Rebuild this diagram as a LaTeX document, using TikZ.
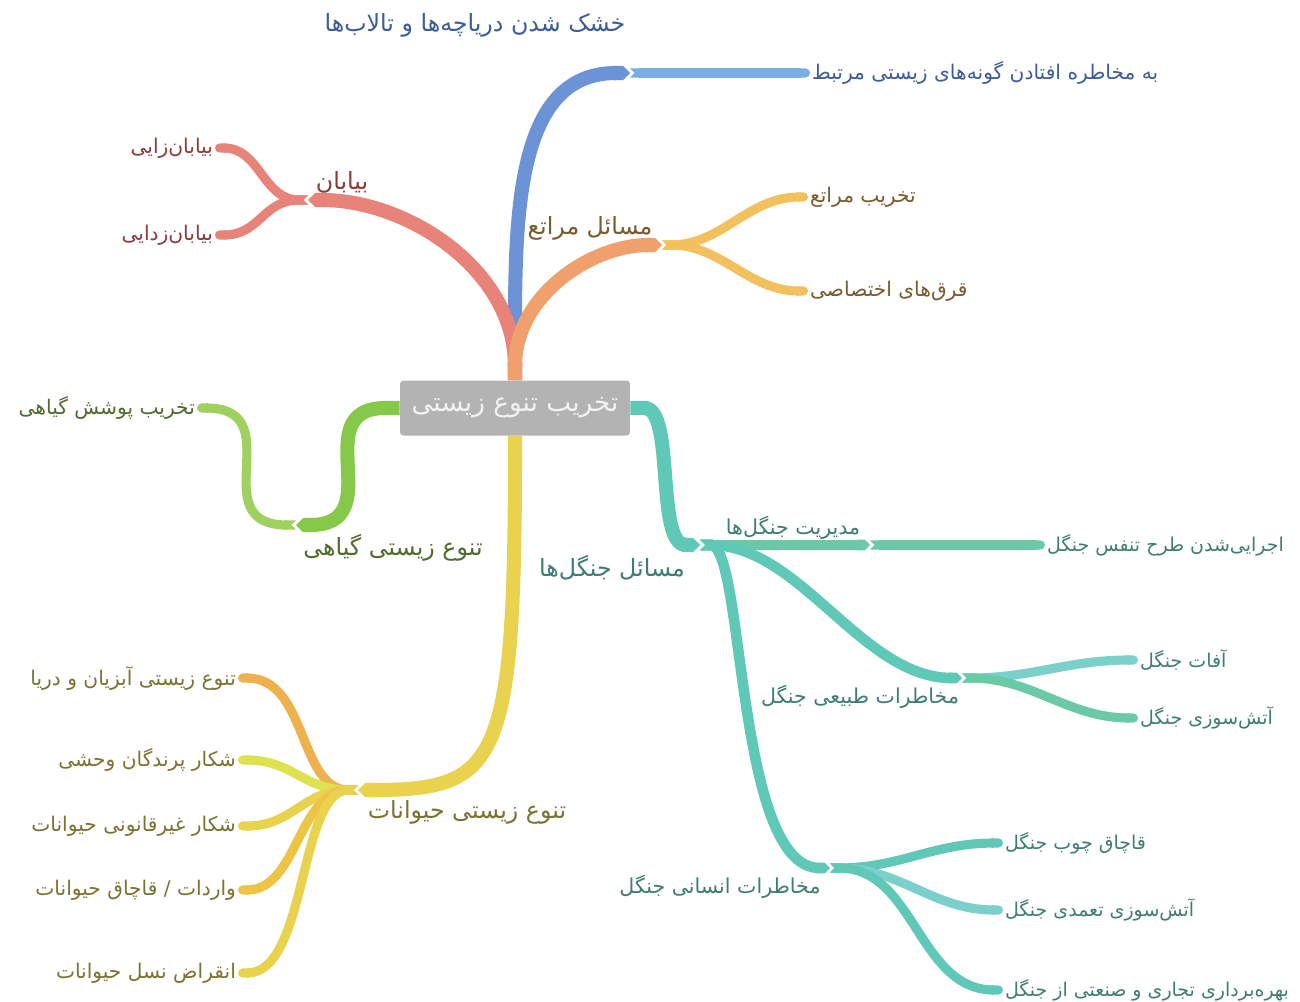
\documentclass[tikz,border=0pt]{standalone}
\usepackage{fontspec}
\setmainfont{DejaVu Sans}
\newfontfamily\fafont[Script=Arabic]{DejaVu Sans}
\TeXXeTstate=1
\usetikzlibrary{arrows.meta}

\definecolor{rootgray}{HTML}{B3B3B3}
\definecolor{blueA}{HTML}{6B93D6}
\definecolor{blueB}{HTML}{78AEE3}
\definecolor{blueT}{HTML}{3B5E96}
\definecolor{redA}{HTML}{E8837A}
\definecolor{redT}{HTML}{8C3B3B}
\definecolor{orangeA}{HTML}{F0A06C}
\definecolor{orangeB}{HTML}{F2C15E}
\definecolor{orangeT}{HTML}{7A5A2E}
\definecolor{greenA}{HTML}{86C84A}
\definecolor{greenB}{HTML}{A0D060}
\definecolor{greenT}{HTML}{4F6B2E}
\definecolor{yellowA}{HTML}{E9D24E}
\definecolor{yellowB}{HTML}{EDB24E}
\definecolor{yellowC}{HTML}{DDE24E}
\definecolor{yellowD}{HTML}{EEC445}
\definecolor{yellowT}{HTML}{7A7332}
\definecolor{tealA}{HTML}{5FC8B6}
\definecolor{tealB}{HTML}{6CC9A6}
\definecolor{tealC}{HTML}{7BD0CC}
\definecolor{tealT}{HTML}{3E7D72}

\newcommand{\fa}[1]{\beginR #1\endR}

\begin{document}
\begin{tikzpicture}[
    x=0.02cm, y=-0.02cm,
    root/.style={rectangle, rounded corners=2pt, fill=rootgray, text=white!95!black, minimum width=4.6cm, minimum height=1.1cm, font=\fafont\fontsize{15}{17}\selectfont},
    limb/.style={line width=8pt, {Butt Cap}-{Triangle Cap}},
    mid/.style={line width=6pt, {Triangle Cap[reversed]}-{Triangle Cap}},
    twig/.style={line width=5.2pt, {Triangle Cap[reversed]}-{Round Cap}},
    big/.style={inner sep=1pt, font=\fafont\fontsize{13.5}{15}\selectfont},
    sub/.style={inner sep=1pt, font=\fafont\fontsize{11.7}{13}\selectfont},
    small/.style={inner sep=1pt, font=\fafont\fontsize{11.5}{13}\selectfont},
    leafR/.style={small, anchor=west},
    leafL/.style={small, anchor=east},
    leafF/.style={leafR, font=\fafont\fontsize{10.8}{12}\selectfont}
]
\useasboundingbox[fill=white] (0,0) rectangle (1300,1001);

% Center
\node[root] (Root) at (515,408) {\fa{تخریب تنوع زیستی}};

% joints
\coordinate (jLakes) at (630,73);
\coordinate (jDes) at (308,200);
\coordinate (jRange) at (662,245);
\coordinate (jPlant) at (296,525);
\coordinate (jAnimal) at (358,790);
\coordinate (jForest) at (700,545);
\coordinate (jMgmt) at (870,545);
\coordinate (jNat) at (962,678);
\coordinate (jHum) at (830,868);

% ==================== Lakes Block ====================
\node[big, text=blueT] (lbLakes) at (475,25) {\fa{خشک شدن دریاچه‌ها و تالاب‌ها}};
\node[leafR, text=blueT] (lfLakes) at (810,73) {\fa{به مخاطره افتادن گونه‌های زیستی مرتبط}};

\draw[limb, blueA] (Root.north) .. controls +(0,-150) and +(-120,0) .. (jLakes);
\draw[twig, blueB] (jLakes) -- (lfLakes.west);

% ==================== Desert Block ====================
\node[big, text=redT] (lbDes) at (342,182) {\fa{بیابان}};
\node[leafL, text=redT] (lfDesA) at (215,148) {\fa{بیابان‌زایی}};
\node[leafL, text=redT] (lfDesB) at (215,235) {\fa{بیابان‌زدایی}};

\draw[limb, redA] (Root.north) .. controls +(0,-110) and +(100,0) .. (jDes);
\draw[twig, redA] (jDes) .. controls +(-45,0) and +(45,0) .. (lfDesA.east);
\draw[twig, redA] (jDes) .. controls +(-45,0) and +(45,0) .. (lfDesB.east);

% ==================== Range Block ====================
\node[big, text=orangeT] (lbRange) at (590,228) {\fa{مسائل مراتع}};
\node[leafR, text=orangeT] (lfRangeA) at (808,197) {\fa{تخریب مراتع}};
\node[leafR, text=orangeT] (lfRangeB) at (808,291) {\fa{قرق‌های اختصاصی}};

\draw[limb, orangeA] (Root.north) .. controls +(0,-85) and +(-70,0) .. (jRange);
\draw[twig, orangeB] (jRange) .. controls +(60,0) and +(-60,0) .. (lfRangeA.west);
\draw[twig, orangeB] (jRange) .. controls +(60,0) and +(-60,0) .. (lfRangeB.west);

% ==================== Plant Block ====================
\node[big, text=greenT] (lbPlant) at (393,548) {\fa{تنوع زیستی گیاهی}};
\node[leafL, text=greenT] (lfPlant) at (197,408) {\fa{تخریب پوشش گیاهی}};

\draw[limb, greenA] (Root.west) .. controls +(-95,0) and +(95,0) .. (jPlant);
\draw[twig, greenB] (jPlant) .. controls +(-95,0) and +(95,0) .. (lfPlant.east);

% ==================== Animal Block ====================
\node[big, text=yellowT] (lbAnimal) at (467,812) {\fa{تنوع زیستی حیوانات}};
\node[leafL, text=yellowT] (lfAniA) at (238,678) {\fa{تنوع زیستی آبزیان و دریا}};
\node[leafL, text=yellowT] (lfAniB) at (238,760) {\fa{شکار پرندگان وحشی}};
\node[leafL, text=yellowT] (lfAniC) at (238,826) {\fa{شکار غیرقانونی حیوانات}};
\node[leafL, text=yellowT] (lfAniD) at (238,890) {\fa{واردات / قاچاق حیوانات}};
\node[leafL, text=yellowT] (lfAniE) at (238,973) {\fa{انقراض نسل حیوانات}};

\draw[limb, yellowA] (Root.south) .. controls +(0,330) and +(140,0) .. (jAnimal);
\draw[twig, yellowB] (jAnimal) .. controls +(-60,0) and +(70,0) .. (lfAniA.east);
\draw[twig, yellowC] (jAnimal) .. controls +(-55,0) and +(55,0) .. (lfAniB.east);
\draw[twig, yellowA] (jAnimal) .. controls +(-55,0) and +(55,0) .. (lfAniC.east);
\draw[twig, yellowD] (jAnimal) .. controls +(-60,0) and +(60,0) .. (lfAniD.east);
\draw[twig, yellowA] (jAnimal) .. controls +(-60,0) and +(70,0) .. (lfAniE.east);

% ==================== Forest Block ====================
\node[big, text=tealT] (lbForest) at (612,568) {\fa{مسائل جنگل‌ها}};
\node[sub, text=tealT] (lbMgmt) at (793,528) {\fa{مدیریت جنگل‌ها}};
\node[sub, text=tealT] (lbNat) at (860,697) {\fa{مخاطرات طبیعی جنگل}};
\node[sub, text=tealT] (lbHum) at (720,887) {\fa{مخاطرات انسانی جنگل}};
\node[leafF, text=tealT] (lfMgmt) at (1045,545) {\fa{اجرایی‌شدن طرح تنفس جنگل}};
\node[leafF, text=tealT] (lfNatA) at (1138,660) {\fa{آفات جنگل}};
\node[leafF, text=tealT] (lfNatB) at (1138,718) {\fa{آتش‌سوزی جنگل}};
\node[leafF, text=tealT] (lfHumA) at (1003,843) {\fa{قاچاق چوب جنگل}};
\node[leafF, text=tealT] (lfHumB) at (1003,910) {\fa{آتش‌سوزی تعمدی جنگل}};
\node[leafF, text=tealT] (lfHumC) at (1003,990) {\fa{بهره‌برداری تجاری و صنعتی از جنگل}};

\draw[limb, tealA] (Root.east) .. controls +(45,0) and +(-45,0) .. (jForest);
\draw[mid, tealB] (jForest) -- (jMgmt);
\draw[twig, tealB] (jMgmt) -- (lfMgmt.west);
\draw[mid, tealA] (jForest) .. controls +(100,0) and +(-100,0) .. (jNat);
\draw[twig, tealC] (jNat) .. controls +(70,0) and +(-70,0) .. (lfNatA.west);
\draw[twig, tealB] (jNat) .. controls +(70,0) and +(-70,0) .. (lfNatB.west);
\draw[mid, tealA] (jForest) .. controls +(45,0) and +(-95,0) .. (jHum);
\draw[twig, tealA] (jHum) .. controls +(70,0) and +(-70,0) .. (lfHumA.west);
\draw[twig, tealC] (jHum) .. controls +(70,0) and +(-70,0) .. (lfHumB.west);
\draw[twig, tealA] (jHum) .. controls +(85,0) and +(-85,0) .. (lfHumC.west);

\end{tikzpicture}
\end{document}
